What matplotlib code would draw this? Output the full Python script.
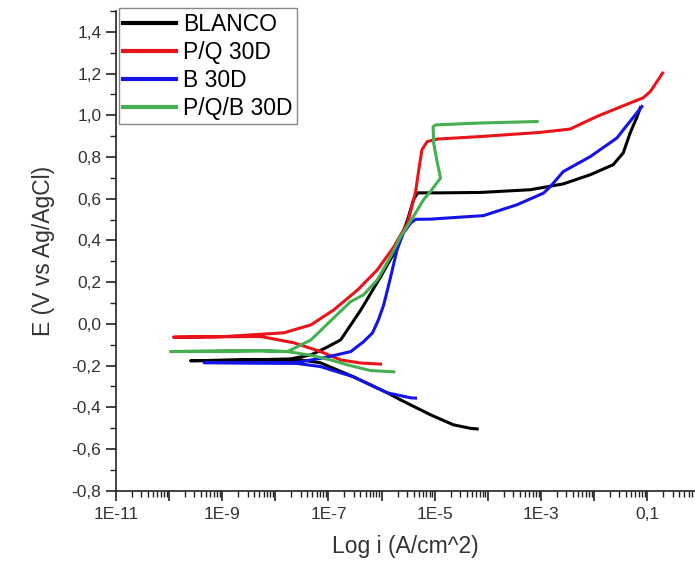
import numpy as np
import matplotlib
matplotlib.use('Agg')
import matplotlib.pyplot as plt
from matplotlib.ticker import LogLocator, FixedLocator, FuncFormatter, MultipleLocator, NullFormatter

plt.rcParams['font.family'] = ['Liberation Sans', 'DejaVu Sans']

# log10 of current density (A/cm^2) and potential (V vs Ag/AgCl)
# each curve: cathodic branch (end -> Ecorr tip) then anodic branch
blanco_logi = [-4.20, -4.33, -4.65, -5.08, -5.64, -5.89, -6.53, -7.15, -7.52, -8.46, -9.59,
               -8.46, -7.71, -7.33, -7.05, -6.77, -6.39, -6.02, -5.70, -5.51, -5.40, -5.32,
               -4.89, -4.14, -3.20, -2.58, -2.07, -1.64, -1.45, -1.32, -1.19, -1.13]
blanco_E = [-0.504, -0.501, -0.484, -0.436, -0.365, -0.331, -0.254, -0.187, -0.173, -0.173, -0.177,
            -0.173, -0.168, -0.149, -0.115, -0.077, 0.067, 0.225, 0.369, 0.499, 0.595, 0.628,
            0.628, 0.630, 0.643, 0.671, 0.715, 0.763, 0.820, 0.916, 0.993, 1.036]

pq_logi = [-6.02, -6.39, -6.77, -7.15, -7.65, -8.27, -9.03, -9.91,
           -9.03, -8.46, -7.84, -7.33, -6.90, -6.45, -6.08, -5.77, -5.51, -5.36, -5.30, -5.24,
           -5.14, -4.95, -4.14, -3.01, -2.45, -1.95, -1.32, -1.08, -0.94, -0.71]
pq_E = [-0.193, -0.188, -0.173, -0.133, -0.091, -0.061, -0.062, -0.064,
        -0.062, -0.053, -0.043, -0.005, 0.067, 0.163, 0.259, 0.369, 0.484, 0.633, 0.739, 0.835,
        0.874, 0.886, 0.898, 0.918, 0.934, 0.994, 1.059, 1.083, 1.114, 1.202]

b_logi = [-5.36, -5.45, -5.89, -6.53, -7.15, -7.65, -8.46, -9.34,
          -8.46, -7.65, -7.09, -6.58, -6.34, -6.17, -6.06, -5.96, -5.83, -5.71, -5.59, -5.45,
          -5.36, -5.08, -4.08, -3.45, -2.95, -2.82, -2.58, -2.07, -1.57, -1.45, -1.10]
b_E = [-0.356, -0.355, -0.331, -0.254, -0.205, -0.188, -0.187, -0.186,
       -0.187, -0.187, -0.163, -0.133, -0.086, -0.043, 0.019, 0.091, 0.225, 0.355, 0.436, 0.484,
       0.501, 0.502, 0.519, 0.571, 0.627, 0.659, 0.730, 0.802, 0.891, 0.930, 1.042]

pqb_logi = [-5.77, -6.21, -6.64, -6.96, -7.33, -7.77, -8.27, -9.97,
            -8.27, -7.77, -7.33, -6.90, -6.58, -6.34, -6.08, -5.83, -5.64, -5.40, -5.21, -5.08,
            -4.89, -4.95, -5.02, -5.03, -4.98, -4.14, -3.07]
pqb_E = [-0.230, -0.224, -0.197, -0.173, -0.151, -0.133, -0.129, -0.133,
         -0.129, -0.133, -0.077, 0.029, 0.107, 0.139, 0.211, 0.323, 0.419, 0.515, 0.595, 0.635,
         0.699, 0.771, 0.867, 0.946, 0.954, 0.963, 0.970]

fig = plt.figure(figsize=(6.95, 5.67), dpi=100)
ax = fig.add_axes([0.1669, 0.1346, 0.8331, 0.846])

lw = 2.2
ax.plot(10**np.array(blanco_logi), blanco_E, color='black', lw=lw, label='BLANCO')
ax.plot(10**np.array(pq_logi), pq_E, color='#e8141a', lw=lw, label='P/Q 30D')
ax.plot(10**np.array(b_logi), b_E, color='#1414e6', lw=lw, label='B 30D')
ax.plot(10**np.array(pqb_logi), pqb_E, color='#45b050', lw=lw, label='P/Q/B 30D')

ax.set_xscale('log')
ax.set_xlim(1e-11, 10**-0.1)
ax.set_ylim(-0.8, 1.5)

for s in ['top', 'right']:
    ax.spines[s].set_visible(False)
for s in ['left', 'bottom']:
    ax.spines[s].set_linewidth(1.2)
    ax.spines[s].set_color('#222222')

# x ticks: every decade, label every other one
ax.xaxis.set_major_locator(FixedLocator([10.0**e for e in range(-11, 1)]))
def xfmt(v, pos):
    e = int(round(np.log10(v)))
    if e % 2 == 0:
        return ''
    if e == -1:
        return '0,1'
    return '1E%d' % e
ax.xaxis.set_major_formatter(FuncFormatter(xfmt))
ax.xaxis.set_minor_locator(LogLocator(base=10, subs=np.arange(2, 10), numticks=100))
ax.xaxis.set_minor_formatter(NullFormatter())

ax.yaxis.set_major_locator(MultipleLocator(0.2))
ax.yaxis.set_minor_locator(MultipleLocator(0.1))
ax.yaxis.set_major_formatter(FuncFormatter(lambda v, p: ('%.1f' % v).replace('.', ',').replace('-0,0', '0,0')))

ax.tick_params(which='major', direction='out', length=7, width=1.2, labelsize=12.5, colors='#222222', labelcolor='#333333')
ax.tick_params(which='minor', direction='out', length=4, width=1.0, colors='#222222')
ax.tick_params(axis='x', which='major', pad=5)

ax.set_xlabel('Log i (A/cm^2)', fontsize=16.5, color='#333333', labelpad=9)
ax.set_ylabel('E (V vs Ag/AgCl)', fontsize=16.5, color='#333333', labelpad=12)

leg = ax.legend(loc='upper left', bbox_to_anchor=(0.005, 1.006), borderaxespad=0,
                fontsize=16.5, handlelength=2.3, handletextpad=0.3, labelspacing=0.22,
                borderpad=0.2, fancybox=False, framealpha=1, edgecolor='#888888')
leg.get_frame().set_linewidth(1.0)
for line in leg.get_lines():
    line.set_linewidth(3)

fig.savefig('out.png', dpi=100)
